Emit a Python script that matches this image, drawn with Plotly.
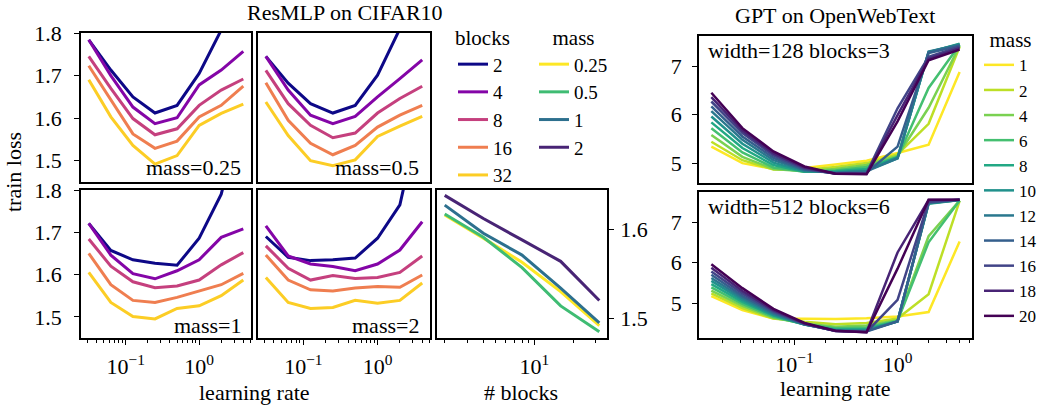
import plotly.graph_objects as go

# ---------------- data ----------------
lr_resmlp = [1/32, 1/16, 1/8, 1/4, 1/2, 1, 2, 4]
blocks = [2, 4, 8, 16, 32]
block_labels = ["2", "4", "8", "16", "32"]
block_colors = ["#0d0887", "#8405a7", "#c5407e", "#ef7e50", "#fccd25"]

mass_labels = ["0.25", "0.5", "1", "2"]
mass_colors = ["#fde725", "#3fbc73", "#2d708e", "#482475"]

# train loss vs learning rate; rows = blocks 2, 4, 8, 16, 32
loss_mass_025 = [
    [1.784, 1.713, 1.650, 1.612, 1.630, 1.705, 1.807, 2.000],
    [1.784, 1.700, 1.626, 1.587, 1.601, 1.678, 1.713, 1.757],
    [1.745, 1.670, 1.599, 1.561, 1.575, 1.630, 1.666, 1.692],
    [1.723, 1.642, 1.563, 1.529, 1.546, 1.603, 1.630, 1.675],
    [1.690, 1.603, 1.536, 1.492, 1.512, 1.583, 1.611, 1.633],
]
loss_mass_05 = [
    [1.745, 1.682, 1.634, 1.612, 1.630, 1.701, 1.810, 2.000],
    [1.745, 1.666, 1.607, 1.587, 1.604, 1.650, 1.693, 1.737],
    [1.712, 1.634, 1.583, 1.554, 1.565, 1.612, 1.646, 1.675],
    [1.683, 1.595, 1.541, 1.514, 1.536, 1.579, 1.607, 1.630],
    [1.638, 1.559, 1.500, 1.488, 1.502, 1.557, 1.581, 1.604],
]
loss_mass_1 = [
    [1.721, 1.657, 1.635, 1.627, 1.622, 1.686, 1.790, 2.000],
    [1.721, 1.646, 1.602, 1.590, 1.609, 1.635, 1.688, 1.708],
    [1.684, 1.620, 1.583, 1.569, 1.573, 1.587, 1.623, 1.652],
    [1.650, 1.576, 1.539, 1.534, 1.546, 1.561, 1.576, 1.603],
    [1.605, 1.534, 1.501, 1.495, 1.520, 1.526, 1.550, 1.587],
]
loss_mass_2 = [
    [1.690, 1.641, 1.633, 1.635, 1.639, 1.686, 1.765, 2.000],
    [1.715, 1.644, 1.625, 1.619, 1.609, 1.625, 1.658, 1.725],
    [1.668, 1.615, 1.587, 1.598, 1.591, 1.593, 1.605, 1.644],
    [1.646, 1.587, 1.564, 1.561, 1.568, 1.572, 1.570, 1.599],
    [1.593, 1.534, 1.520, 1.522, 1.539, 1.532, 1.539, 1.580],
]

# best train loss vs number of blocks, per mass
best_mass_025 = [1.616, 1.590, 1.563, 1.530, 1.492]
best_mass_05 = [1.617, 1.591, 1.557, 1.514, 1.485]
best_mass_1 = [1.627, 1.5955, 1.571, 1.534, 1.495]
best_mass_2 = [1.638, 1.612, 1.588, 1.564, 1.520]

# GPT on OpenWebText
lr_gpt = [1/64, 1/32, 1/16, 1/8, 1/4, 1/2, 1, 2, 4]
gpt_masses = ["1", "2", "4", "6", "8", "10", "12", "14", "16", "18", "20"]
gpt_colors = ["#fde725", "#bddf26", "#7ad151", "#44bf70", "#22a884", "#21918c",
              "#2a788e", "#355f8d", "#414487", "#482475", "#440154"]

gpt_w128_b3 = [
    [5.34, 5.00, 4.88, 4.90, 4.97, 5.05, 5.21, 5.38, 6.88],
    [5.44, 5.06, 4.87, 4.86, 4.92, 5.00, 5.18, 5.81, 7.40],
    [5.58, 5.13, 4.88, 4.83, 4.88, 4.96, 5.15, 6.14, 7.42],
    [5.72, 5.22, 4.91, 4.82, 4.85, 4.92, 5.12, 6.55, 7.44],
    [5.84, 5.31, 4.96, 4.82, 4.83, 4.88, 5.12, 7.28, 7.46],
    [5.96, 5.40, 5.01, 4.83, 4.81, 4.85, 5.10, 7.29, 7.45],
    [6.07, 5.48, 5.06, 4.85, 4.80, 4.83, 5.10, 7.30, 7.44],
    [6.17, 5.55, 5.11, 4.87, 4.79, 4.80, 5.34, 7.27, 7.42],
    [6.27, 5.62, 5.16, 4.89, 4.78, 4.79, 6.13, 7.19, 7.40],
    [6.36, 5.67, 5.20, 4.91, 4.78, 4.78, 5.99, 7.15, 7.37],
    [6.45, 5.72, 5.24, 4.93, 4.78, 4.77, 5.86, 7.12, 7.34],
]
gpt_w512_b6 = [
    [5.17, 4.83, 4.62, 4.61, 4.61, 4.63, 4.67, 4.78, 6.52],
    [5.24, 4.88, 4.62, 4.54, 4.48, 4.51, 4.62, 5.22, 7.52],
    [5.31, 4.93, 4.64, 4.50, 4.42, 4.45, 4.58, 6.65, 7.53],
    [5.39, 4.98, 4.66, 4.48, 4.38, 4.40, 4.56, 6.50, 7.53],
    [5.47, 5.03, 4.69, 4.47, 4.35, 4.36, 4.55, 7.45, 7.54],
    [5.55, 5.08, 4.71, 4.47, 4.33, 4.33, 4.55, 7.46, 7.54],
    [5.62, 5.13, 4.74, 4.48, 4.32, 4.31, 4.55, 7.47, 7.54],
    [5.70, 5.18, 4.77, 4.48, 4.32, 4.30, 4.55, 7.48, 7.55],
    [5.78, 5.24, 4.80, 4.49, 4.31, 4.29, 5.08, 7.50, 7.55],
    [5.87, 5.30, 4.83, 4.50, 4.31, 4.28, 6.25, 7.54, 7.55],
    [5.96, 5.37, 4.86, 4.51, 4.32, 4.28, 5.85, 7.55, 7.55],
]

# ---------------- layout helpers ----------------
W, H = 1039, 407
FONT = "Liberation Serif, Times New Roman, serif"


def px_x(x):
    return x / W


def px_y(y):
    return 1 - y / H


fig = go.Figure()

# ResMLP lr panels
panels = [
    (loss_mass_025, "x", "y"),
    (loss_mass_05, "x2", "y2"),
    (loss_mass_1, "x3", "y3"),
    (loss_mass_2, "x4", "y4"),
]
for pi, (data, xa, ya) in enumerate(panels):
    for bi, row in enumerate(data):
        fig.add_trace(go.Scatter(
            x=lr_resmlp, y=row, xaxis=xa, yaxis=ya, mode="lines",
            line=dict(color=block_colors[bi], width=3),
            name=block_labels[bi], legend="legend",
            showlegend=(pi == 0), hoverinfo="skip"))

# blocks panel
for mi, row in enumerate([best_mass_025, best_mass_05, best_mass_1, best_mass_2]):
    fig.add_trace(go.Scatter(
        x=blocks, y=row, xaxis="x5", yaxis="y5", mode="lines",
        line=dict(color=mass_colors[mi], width=3),
        name=mass_labels[mi], legend="legend2", showlegend=True, hoverinfo="skip"))

# GPT panels
for gi, data in enumerate([gpt_w128_b3, gpt_w512_b6]):
    xa, ya = ("x6", "y6") if gi == 0 else ("x7", "y7")
    for mi, row in enumerate(data):
        fig.add_trace(go.Scatter(
            x=lr_gpt, y=row, xaxis=xa, yaxis=ya, mode="lines",
            line=dict(color=gpt_colors[mi], width=2.5),
            name=gpt_masses[mi], legend="legend3",
            showlegend=(gi == 0), hoverinfo="skip"))

tick_font = dict(family=FONT, size=22, color="black")
base_axis = dict(showline=True, mirror=True, linecolor="black", linewidth=1.5,
                 showgrid=False, zeroline=False, tickfont=tick_font, automargin=False,
                 tickcolor="black", tickwidth=1.2, ticklen=5)

minor_lr = [0.03, 0.04, 0.05, 0.06, 0.07, 0.08, 0.09,
            0.2, 0.3, 0.4, 0.5, 0.6, 0.7, 0.8, 0.9, 2, 3, 4, 5]
minor_lr_gpt = [0.02] + minor_lr
minor_blocks = [2, 3, 4, 5, 6, 7, 8, 9, 20, 30]


def xdom(a, b):
    return [px_x(a), px_x(b)]


def ydom(top, bottom):
    return [px_y(bottom), px_y(top)]


lr_range = [-1.611, 0.707]
resmlp_yrange = [1.45, 1.8]


def lr_axis(dom, show, anchor, rng, minor_vals, standoff=3):
    ax = dict(base_axis, type="log", domain=dom, range=rng, anchor=anchor)
    if show:
        ax.update(ticks="outside", tickmode="array", tickvals=[0.1, 1],
                  ticktext=["10<sup>\u22121</sup>", "10<sup>0</sup>"],
                  showticklabels=True, ticklabelstandoff=standoff,
                  minor=dict(ticks="outside", ticklen=3, tickwidth=1,
                             tickcolor="black", tickmode="array", tickvals=minor_vals))
    else:
        ax.update(ticks="", showticklabels=False)
    return ax


def loss_axis(dom, show, anchor):
    ax = dict(base_axis, domain=dom, range=resmlp_yrange, anchor=anchor)
    if show:
        ax.update(ticks="outside", tickmode="array", tickvals=[1.5, 1.6, 1.7, 1.8],
                  ticktext=["1.5", "1.6", "1.7", "1.8"], ticklabelstandoff=8)
    else:
        ax.update(ticks="", showticklabels=False)
    return ax


fig.update_layout(
    xaxis=lr_axis(xdom(81, 251), False, "y", lr_range, minor_lr),
    yaxis=loss_axis(ydom(33, 182), True, "x"),
    xaxis2=lr_axis(xdom(258, 430), False, "y2", lr_range, minor_lr),
    yaxis2=loss_axis(ydom(33, 182), False, "x2"),
    xaxis3=lr_axis(xdom(81, 251), True, "y3", lr_range, minor_lr),
    yaxis3=loss_axis(ydom(190, 338), True, "x3"),
    xaxis4=lr_axis(xdom(258, 430), True, "y4", lr_range, minor_lr),
    yaxis4=loss_axis(ydom(190, 338), False, "x4"),
    xaxis5=dict(base_axis, type="log", domain=xdom(437, 607), range=[0.241, 1.565],
                anchor="y5", ticks="outside", tickmode="array", tickvals=[10],
                ticktext=["10<sup>1</sup>"], ticklabelstandoff=3,
                minor=dict(ticks="outside", ticklen=3, tickwidth=1, tickcolor="black",
                           tickmode="array", tickvals=minor_blocks)),
    yaxis5=dict(base_axis, domain=ydom(190, 338), range=[1.478, 1.644], anchor="x5",
                side="right", ticks="outside", tickmode="array", tickvals=[1.5, 1.6],
                ticktext=["1.5", "1.6"], ticklabelstandoff=2),
    xaxis6=lr_axis(xdom(699, 972), False, "y6", [-1.926, 0.722], minor_lr_gpt),
    yaxis6=dict(base_axis, domain=ydom(36, 183), range=[4.59, 7.62], anchor="x6",
                ticks="outside", tickmode="array", tickvals=[5, 6, 7],
                ticktext=["5", "6", "7"], ticklabelstandoff=6),
    xaxis7=lr_axis(xdom(699, 972), True, "y7", [-1.926, 0.722], minor_lr_gpt, standoff=1),
    yaxis7=dict(base_axis, domain=ydom(192, 338), range=[4.14, 7.74], anchor="x7",
                ticks="outside", tickmode="array", tickvals=[5, 6, 7],
                ticktext=["5", "6", "7"], ticklabelstandoff=6),
)

legend_common = dict(bgcolor="rgba(0,0,0,0)", borderwidth=0, traceorder="normal",
                     itemclick=False, itemdoubleclick=False,
                     xanchor="left", yanchor="top", tracegroupgap=0)
fig.update_layout(
    legend=dict(legend_common, x=px_x(453), y=px_y(18),
                title=dict(text="blocks", side="top", font=dict(family=FONT, size=21)),
                font=dict(family=FONT, size=19, color="black")),
    legend2=dict(legend_common, x=px_x(534), y=px_y(18),
                 title=dict(text="mass", side="top center", font=dict(family=FONT, size=21)),
                 font=dict(family=FONT, size=19, color="black")),
    legend3=dict(legend_common, x=px_x(979), y=px_y(20),
                 title=dict(text="mass", side="top center", font=dict(family=FONT, size=21)),
                 font=dict(family=FONT, size=17, color="black")),
)

ann_font = dict(family=FONT, size=22, color="black")
annotations = [
    dict(text="ResMLP on CIFAR10", x=px_x(345), y=px_y(12), xanchor="center", yanchor="middle"),
    dict(text="GPT on OpenWebText", x=px_x(835), y=px_y(15), xanchor="center", yanchor="middle"),
    dict(text="mass=0.25", x=px_x(243), y=px_y(167), xanchor="right", yanchor="middle"),
    dict(text="mass=0.5", x=px_x(421), y=px_y(167), xanchor="right", yanchor="middle"),
    dict(text="mass=1", x=px_x(243), y=px_y(325), xanchor="right", yanchor="middle"),
    dict(text="mass=2", x=px_x(421), y=px_y(325), xanchor="right", yanchor="middle"),
    dict(text="width=128 blocks=3", x=px_x(706), y=px_y(50), xanchor="left", yanchor="middle"),
    dict(text="width=512 blocks=6", x=px_x(706), y=px_y(206), xanchor="left", yanchor="middle"),
    dict(text="learning rate", x=px_x(254), y=px_y(392), xanchor="center", yanchor="middle"),
    dict(text="# blocks", x=px_x(521), y=px_y(392), xanchor="center", yanchor="middle"),
    dict(text="learning rate", x=px_x(835), y=px_y(388), xanchor="center", yanchor="middle"),
    dict(text="train loss", x=px_x(14), y=px_y(172), xanchor="center", yanchor="middle",
         textangle=-90),
]
for a in annotations:
    a.update(xref="paper", yref="paper", showarrow=False, font=ann_font)
fig.update_layout(annotations=annotations)

fig.update_layout(
    width=W, height=H, margin=dict(l=0, r=0, t=0, b=0, autoexpand=False),
    paper_bgcolor="white", plot_bgcolor="white",
    font=dict(family=FONT, size=21, color="black"),
)

fig.write_html("out.html", config={"displayModeBar": False})
